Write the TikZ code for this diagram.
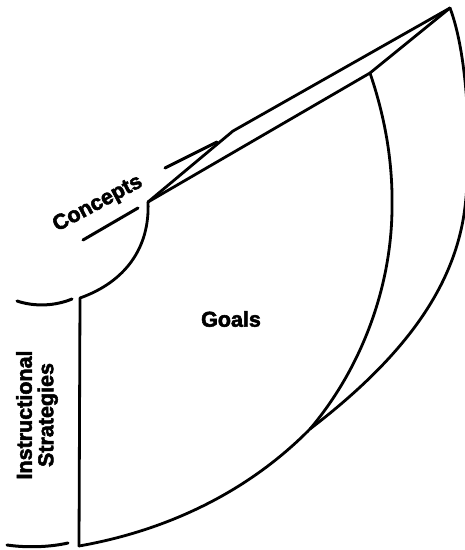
\documentclass[tikz,border=0pt]{standalone}
\usepackage{fontspec}
\newfontfamily\labfont[FakeBold=2.5]{Liberation Sans}
\tikzset{
  edge/.style={line width=2.8pt, line join=round, line cap=round},
  tick/.style={line width=3pt, line cap=round},
  lbl/.style={font=\labfont\bfseries\fontsize{21.5}{21.5}\selectfont, inner sep=0pt, align=center}
}
\begin{document}
\begin{tikzpicture}[x=1pt,y=-1pt]
\useasboundingbox (0,0) rectangle (465,550);
\clip (0,0) rectangle (465,550);
% key points
\coordinate (apex) at (450,8);
\coordinate (kink) at (233,131);
\coordinate (cj) at (148,202);
\coordinate (ij) at (370,73);
\coordinate (tl) at (80,298);
\coordinate (bl) at (79,546);
\coordinate (bj) at (310,429);
\coordinate (rm) at (465,207);
\coordinate (im) at (392,210);
% front face
\draw[edge] (bl) -- (tl) .. controls (125,282) and (150,248) .. (cj) -- (ij) -- (apex);
\draw[edge] (cj) -- (kink) -- (apex);
% bottom arc and outer right curve
\draw[edge] (bl) .. controls (170,530) and (250,490) .. (bj)
  .. controls (400,360) and (455,290) .. (rm)
  .. controls (472,149) and (468,55) .. (apex);
% inner right curve
\draw[edge] (ij) .. controls (386,120) and (393,165) .. (im)
  .. controls (391,290) and (360,370) .. (bj);
% bracket ticks for Concepts
\coordinate (cu1) at (165,168); \coordinate (cu2) at (217,142);
\coordinate (cl1) at (83,240);  \coordinate (cl2) at (138,208);
\draw[tick] (cu1) -- (cu2);
\draw[tick] (cl1) -- (cl2);
% bracket ticks for Instructional Strategies
\coordinate (su1) at (17,301); \coordinate (su2) at (72,299);
\coordinate (sl1) at (7,545);  \coordinate (sl2) at (68,543);
\draw[tick] (su1) .. controls (35,307) and (55,306) .. (su2);
\draw[tick] (sl1) .. controls (28,548) and (50,547) .. (sl2);
% labels
\node[lbl, rotate=28] (concepts) at (98,204) {Concepts};
\node[lbl] (goals) at (231,319) {Goals};
\node[lbl, rotate=90] (strat) at (37,415) {Instructional\\Strategies};
\end{tikzpicture}
\end{document}
